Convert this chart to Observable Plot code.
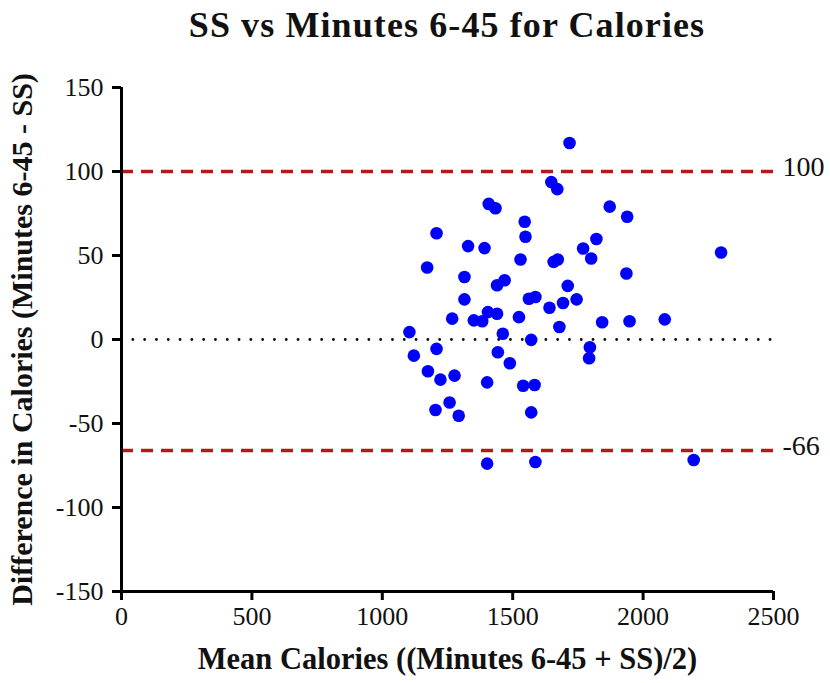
<!DOCTYPE html>
<html>
<head>
<meta charset="utf-8">
<script src="https://cdn.jsdelivr.net/npm/d3@7"></script>
<script src="https://cdn.jsdelivr.net/npm/@observablehq/plot@0.6"></script>
<style>
  body { margin: 0; background: #fff; width: 830px; }
  #title {
    height: 50px; margin: 0; padding-left: 64px;
    font: bold 36px "Liberation Serif", "Times New Roman", serif;
    letter-spacing: 1.1px;
    text-align: center; line-height: 50px; color: #111; white-space: nowrap;
  }
  #chart svg { display: block; }
</style>
</head>
<body>
<div id="title">SS vs Minutes 6-45 for Calories</div>
<div id="chart"></div>
<script>
// Mean of the two methods (x) and their difference (y)
const meanCalories = [
  1718, 1648, 1671, 1408, 1434, 1546, 1549, 1208, 1329, 1392,
  1172, 1530, 1657, 1673, 1315, 1440, 1469, 1711, 1315, 1562,
  1587, 1693, 1745, 1641, 1268, 1351, 1383, 1405, 1440, 1524,
  1679, 1104, 1462, 1571, 1121, 1208, 1443, 1489, 1175, 1223,
  1277, 1402, 1540, 1584, 1204, 1258, 1293, 1571, 1402, 1587,
  1872, 1939, 1821, 1770, 1801, 2299, 1936, 1843, 1948, 2083,
  1796, 1793, 2194
];
const diffCalories = [
  117, 93.7, 89.5, 80.7, 78.1, 70.1, 61.2, 63.2, 55.6, 54.4,
  42.9, 47.6, 46.2, 47.6, 37.2, 32.3, 35.3, 31.9, 23.9, 24.3,
  25.3, 21.7, 23.9, 18.9, 12.4, 11.4, 10.9, 16.3, 15.3, 13.3,
  7.4, 4.4, 3.4, -0.2, -9.6, -5.6, -7.6, -14.1, -18.9, -23.9,
  -21.5, -25.5, -27.5, -27.1, -42.0, -37.5, -45.4, -43.4, -73.9, -72.9,
  79.1, 73.1, 59.8, 54.2, 48.2, 51.8, 39.3, 10.3, 10.9, 12.0,
  -4.6, -11.2, -71.7
];
const xTicks = [0, 500, 1000, 1500, 2000, 2500];
const yTicks = [150, 100, 50, 0, -50, -100, -150];
const limitValues = [100, -66];
const limitLabels = ["100", "-66"];
const biasValue = [0];
const xTitle = ["Mean Calories ((Minutes 6-45 + SS)/2)"];
const yTitle = ["Difference in Calories (Minutes 6-45 - SS)"];

const points = meanCalories.map((m, i) => ({mean: m, diff: diffCalories[i]}));
const limits = limitValues.map((v, i) => ({v, label: limitLabels[i]}));

const chart = Plot.plot({
  width: 830,
  height: 633,
  marginLeft: 121,
  marginRight: 57,
  marginTop: 37,
  marginBottom: 92,
  style: {fontFamily: "'Liberation Serif', 'Times New Roman', serif", fontSize: "26px", color: "#111", background: "#fff"},
  x: {domain: [0, 2500]},
  y: {domain: [-150, 150]},
  marks: [
    Plot.ruleY(biasValue, {stroke: "#111", strokeWidth: 2.8, strokeDasharray: "0.1,11.7", strokeLinecap: "round"}),
    Plot.ruleY(limits, {y: "v", stroke: "#b31b1b", strokeWidth: 3.5, strokeDasharray: "12,8"}),
    Plot.dot(points, {x: "mean", y: "diff", r: 6.3, fill: "#0000ff", stroke: "none"}),
    Plot.text(limits, {y: "v", text: "label", frameAnchor: "right", textAnchor: "start", dx: 9, dy: -4, fontSize: 28, fill: "#111"}),
    Plot.ruleX([0], {stroke: "#000", strokeWidth: 3}),
    Plot.ruleY([-150], {stroke: "#000", strokeWidth: 3}),
    Plot.axisX({ticks: xTicks, tickSize: 9, tickPadding: 6, strokeWidth: 3, stroke: "#000", fontSize: 26, tickFormat: d => String(d), label: null}),
    Plot.axisY({ticks: yTicks, tickSize: 9, tickPadding: 9, strokeWidth: 3, stroke: "#000", fontSize: 26, tickFormat: d => String(d), label: null}),
    Plot.text(xTitle, {text: d => d, frameAnchor: "bottom", textAnchor: "middle", dy: 77, fontWeight: "bold", fontSize: 30.5, fill: "#111"}),
    Plot.text(yTitle, {text: d => d, frameAnchor: "left", textAnchor: "middle", dx: -99, rotate: -90, fontWeight: "bold", fontSize: 30, fill: "#111"})
  ]
});
document.getElementById("chart").appendChild(chart);
</script>
</body>
</html>
